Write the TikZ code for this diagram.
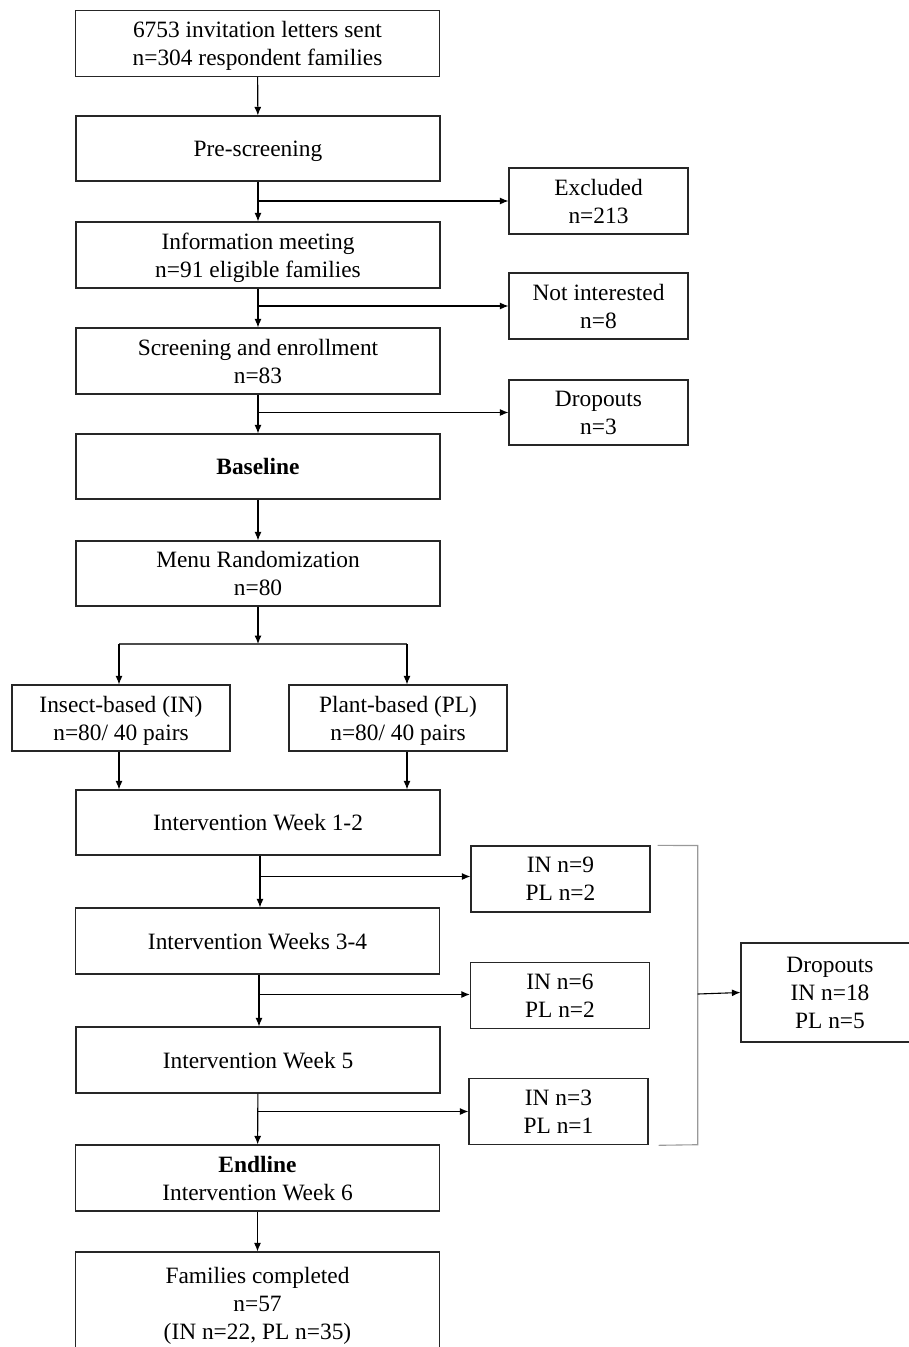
\documentclass[tikz,border=0pt]{standalone}
\usepackage{fontspec}
\setmainfont{Liberation Serif}
\usetikzlibrary{arrows.meta,calc}
\begin{document}
\begin{tikzpicture}[x=1pt,y=-1pt,
  box/.style={draw=black!85,line width=1.2pt,align=center,inner sep=0pt,
    font=\fontsize{23.4}{28}\selectfont,minimum height=66pt,text depth=0pt},
  mainbox/.style={box,minimum width=364pt},
  sidebox/.style={box,minimum width=179pt},
  armbox/.style={box,minimum width=218pt},
  arr/.style={line width=1.1pt,-{Latex[length=8.5pt,width=7pt]}},
  brk/.style={line width=1.1pt,draw=black!40}]
\useasboundingbox (0,0) rectangle (909,1347);
\clip (0,0) rectangle (909,1347);
% main column
\node[mainbox] (top) at (257.5,43.5) {6753 invitation letters sent\\n=304 respondent families};
\node[mainbox,minimum height=65pt] (pre) at (258,148.5) {Pre-screening};
\node[mainbox] (info) at (258,255) {Information meeting\\n=91 eligible families};
\node[mainbox] (scr) at (258,361) {Screening and enrollment\\n=83};
\node[mainbox,minimum height=65pt] (base) at (258,466.5) {\textbf{Baseline}};
\node[mainbox,minimum height=65pt] (menu) at (258,573.5) {Menu Randomization\\n=80};
\node[armbox] (insect) at (121,718) {Insect-based (IN)\\n=80/ 40 pairs};
\node[armbox] (plant) at (398,718) {Plant-based (PL)\\n=80/ 40 pairs};
\node[mainbox,minimum height=65pt] (iw12) at (258,822.5) {Intervention Week 1-2};
\node[mainbox] (iw34) at (257.5,941) {Intervention Weeks 3-4};
\node[mainbox] (iw5) at (258,1060) {Intervention Week 5};
\node[mainbox] (endl) at (257.5,1178) {\textbf{Endline}\\Intervention Week 6};
\node[mainbox,minimum height=103pt] (fam) at (257.5,1303.5) {Families completed\\n=57\\(IN n=22, PL n=35)};
% side boxes
\node[sidebox] (excl) at (598.5,201) {Excluded\\n=213};
\node[sidebox] (notint) at (598.5,306) {Not interested\\n=8};
\node[sidebox,minimum height=65pt] (drop) at (598.5,412.5) {Dropouts\\n=3};
\node[sidebox] (d1) at (560.5,879) {IN n=9\\PL n=2};
\node[sidebox] (d2) at (560,995.5) {IN n=6\\PL n=2};
\node[sidebox] (d3) at (558.5,1111.7) {IN n=3\\PL n=1};
\node[box,minimum width=178pt,minimum height=99pt] (dtot) at (830,992.5) {Dropouts\\IN n=18\\PL n=5};
% trunk points of the later side arrows
\coordinate (t1) at (260,876.5);
\coordinate (t2) at (259,994.5);
\coordinate (t3) at (258,1111.5);
% main arrows
\draw[arr] (iw12.south -| t1) -- (iw34.north -| t1);
\draw[arr] (top) -- (pre);
\draw[arr] (pre) -- (info);
\draw[arr] (info) -- (scr);
\draw[arr] (scr) -- (base);
\draw[arr] (base) -- (menu);
\draw[arr] (iw34.south -| t2) -- (iw5.north -| t2);
\draw[arr] (iw5) -- (endl);
\draw[arr] (endl) -- (fam);
% side arrows
\draw[arr] (pre.south |- excl.west) -- (excl.west);
\draw[arr] (info.south |- notint.west) -- (notint.west);
\draw[arr] (scr.south |- drop.west) -- (drop.west);
\draw[arr] (t1) -- (d1.west |- t1);
\draw[arr] (t2) -- (d2.west |- t2);
\draw[arr] (t3) -- (d3.west |- t3);
% randomization split
\coordinate (sp) at (258,644);
\coordinate (spL) at (119,644);
\coordinate (spR) at (407,644);
\draw[arr] (menu.south) -- (sp);
\draw[line width=1.1pt,draw=black!70] (spL) -- (spR);
\draw[arr] (spL) -- (spL |- insect.north);
\draw[arr] (spR) -- (spR |- plant.north);
\draw[arr] (insect.south -| spL) -- (iw12.north -| spL);
\draw[arr] (plant.south -| spR) -- (iw12.north -| spR);
% bracket
\coordinate (bt) at (697.7,845.5);
\coordinate (bb) at (697.7,1144.7);
\coordinate (bm) at (697.7,994);
\draw[brk] ($(d1.north east)+(7,0)$) -- (bt) -- (bb) -- ($(d3.south east)+(10,0)$);
\draw[arr] (bm) -- (dtot.west);
\end{tikzpicture}
\end{document}
